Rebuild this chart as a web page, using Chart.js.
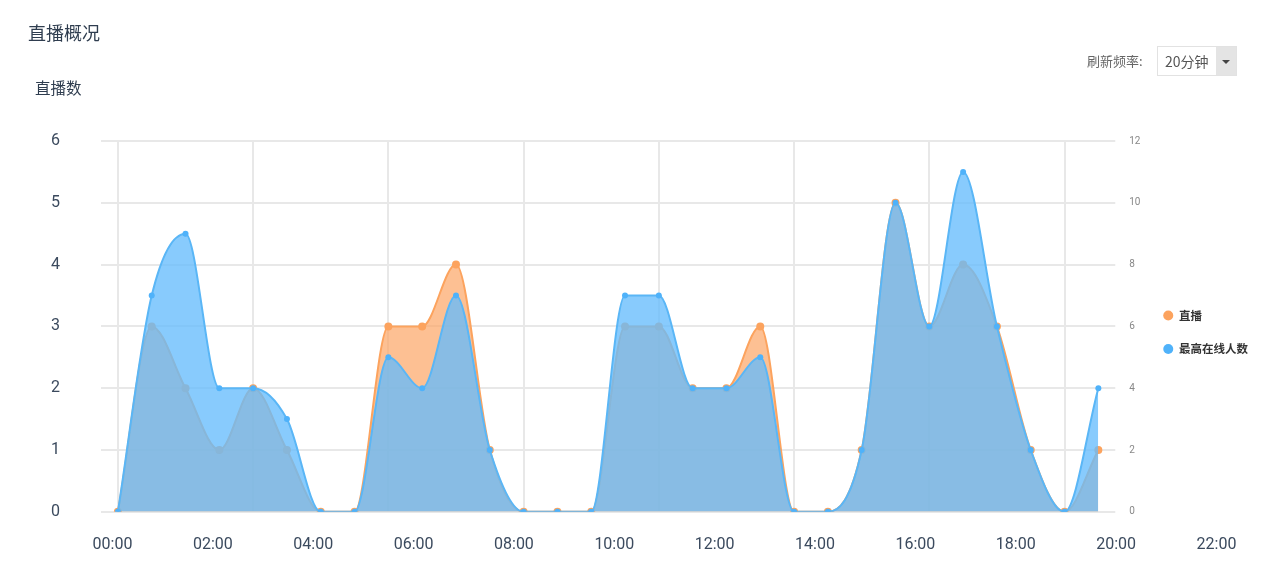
<!DOCTYPE html>
<html>
<head>
<meta charset="utf-8">
<script src="https://cdn.jsdelivr.net/npm/chart.js@4"></script>
<style>
html,body{margin:0;padding:0;background:#fff;width:1280px;height:583px;overflow:hidden;font-family:"Noto Sans CJK SC","Noto Sans",sans-serif;}
#wrap{position:relative;width:1280px;height:583px;}
#c{position:absolute;left:0;top:0;}
.title{position:absolute;left:28px;top:19px;font-size:18px;line-height:26px;color:#2f3d4f;}
.sub{position:absolute;left:35px;top:76px;font-size:15.5px;line-height:22px;color:#2f3d4f;}
.refresh{position:absolute;left:1087px;top:51px;font-size:13px;line-height:20px;color:#666;}
.sel{position:absolute;left:1157px;top:46px;width:80px;height:30px;box-sizing:border-box;border:1px solid #e2e2e2;background:#fff;}
.sel .txt{position:absolute;left:7px;top:4px;font-size:14px;line-height:20px;color:#555;}
.sel .arr{position:absolute;right:0;top:0;width:20px;height:28px;background:#e4e4e4;}
.sel .arr:after{content:"";position:absolute;left:6px;top:13px;border-left:4px solid transparent;border-right:4px solid transparent;border-top:4px solid #444;}
</style>
</head>
<body>
<div id="wrap">
  <canvas id="c" width="1280" height="583"></canvas>
  <div class="title">直播概况</div>
  <div class="sub">直播数</div>
  <div class="refresh">刷新频率:</div>
  <div class="sel"><span class="txt">20分钟</span><span class="arr"></span></div>
</div>
<script>
// ---- data ----
const categories = ["00:00","00:40","01:20","02:00","02:40","03:20","04:00","04:40","05:20","06:00",
                    "06:40","07:20","08:00","08:40","09:20","10:00","10:40","11:20","12:00","12:40",
                    "13:20","14:00","14:40","15:20","16:00","16:40","17:20","18:00","18:40","19:20"];
const liveCounts = [0,3,2,1,2,1,0,0,3,3,4,1,0,0,0,3,3,2,2,3,0,0,1,5,3,4,3,1,0,1];
const peakOnline = [0,7,9,4,4,3,0,0,5,4,7,2,0,0,0,7,7,4,4,5,0,0,2,10,6,11,6,2,0,4];
const hourTicks  = [0,2,4,6,8,10,12,14,16,18,20,22];
const hourLabels = ["00:00","02:00","04:00","06:00","08:00","10:00","12:00","14:00","16:00","18:00","20:00","22:00"];
const seriesNames = ["直播","最高在线人数"];

const labelColor = '#3b4a5e';
const gridColor = '#e8e8e8';

new Chart(document.getElementById('c'), {
  type: 'line',
  data: {
    labels: categories,
    datasets: [
      {
        label: seriesNames[0],
        data: liveCounts,
        yAxisID: 'y',
        order: 1,
        borderColor: '#fca35e',
        backgroundColor: '#fca35e',
        fill: {target: 'origin', above: 'rgba(252,162,96,0.68)'},
        borderWidth: 2,
        pointRadius: 4,
        pointBorderWidth: 0,
        tension: 0.4,
        cubicInterpolationMode: 'monotone'
      },
      {
        label: seriesNames[1],
        data: peakOnline,
        yAxisID: 'y1',
        order: 0,
        borderColor: '#5ab6f6',
        backgroundColor: '#4fb2fa',
        fill: {target: 'origin', above: 'rgba(100,187,252,0.77)'},
        borderWidth: 2,
        pointRadius: 3,
        pointBorderWidth: 0,
        tension: 0.4,
        cubicInterpolationMode: 'monotone'
      }
    ]
  },
  options: {
    responsive: false,
    animation: false,
    layout: {padding: {top: 141, right: 22, bottom: 4, left: 0}},
    plugins: {
      tooltip: {enabled: false},
      legend: {
        position: 'right',
        fullSize: false,
        align: 'center',
        title: {display: true, text: '', padding: 1, font: {size: 8}},
        labels: {
          usePointStyle: true,
          pointStyle: 'circle',
          pointStyleWidth: 10,
          boxWidth: 10,
          boxHeight: 7,
          padding: 22,
          color: '#333',
          font: {size: 11.5, weight: 'bold', family: '"Noto Sans CJK SC", sans-serif'},
          sort: (a, b) => a.datasetIndex - b.datasetIndex
        }
      }
    },
    scales: {
      x: {
        type: 'category',
        offset: true,
        ticks: {display: false},
        border: {display: false},
        grid: {
          drawTicks: false,
          lineWidth: 2,
          color: (ctx) => (ctx.index % 4 === 0 ? gridColor : 'rgba(0,0,0,0)')
        }
      },
      x2: {
        type: 'linear',
        position: 'bottom',
        fullSize: true,
        min: -2.242,
        max: 22.828,
        afterBuildTicks: (s) => { s.ticks = hourTicks.map(v => ({value: v})); },
        ticks: {
          autoSkip: false,
          maxRotation: 0,
          padding: 24,
          color: labelColor,
          font: {size: 16, family: 'Roboto'},
          callback: (v, i) => hourLabels[i]
        },
        grid: {display: false, drawTicks: false},
        border: {display: false}
      },
      y: {
        position: 'left',
        min: 0,
        max: 6,
        afterFit: (s) => { s.width = 101; },
        ticks: {stepSize: 1, padding: 41, color: labelColor, font: {size: 16, family: 'Roboto'}},
        grid: {color: gridColor, lineWidth: 2, drawTicks: false},
        border: {display: false}
      },
      y1: {
        position: 'right',
        min: 0,
        max: 12,
        afterFit: (s) => { s.width = 26; },
        ticks: {stepSize: 2, padding: 14, color: '#888', font: {size: 10, family: 'Roboto'}},
        grid: {drawOnChartArea: false, drawTicks: false},
        border: {display: false}
      }
    }
  }
});
</script>
</body>
</html>
